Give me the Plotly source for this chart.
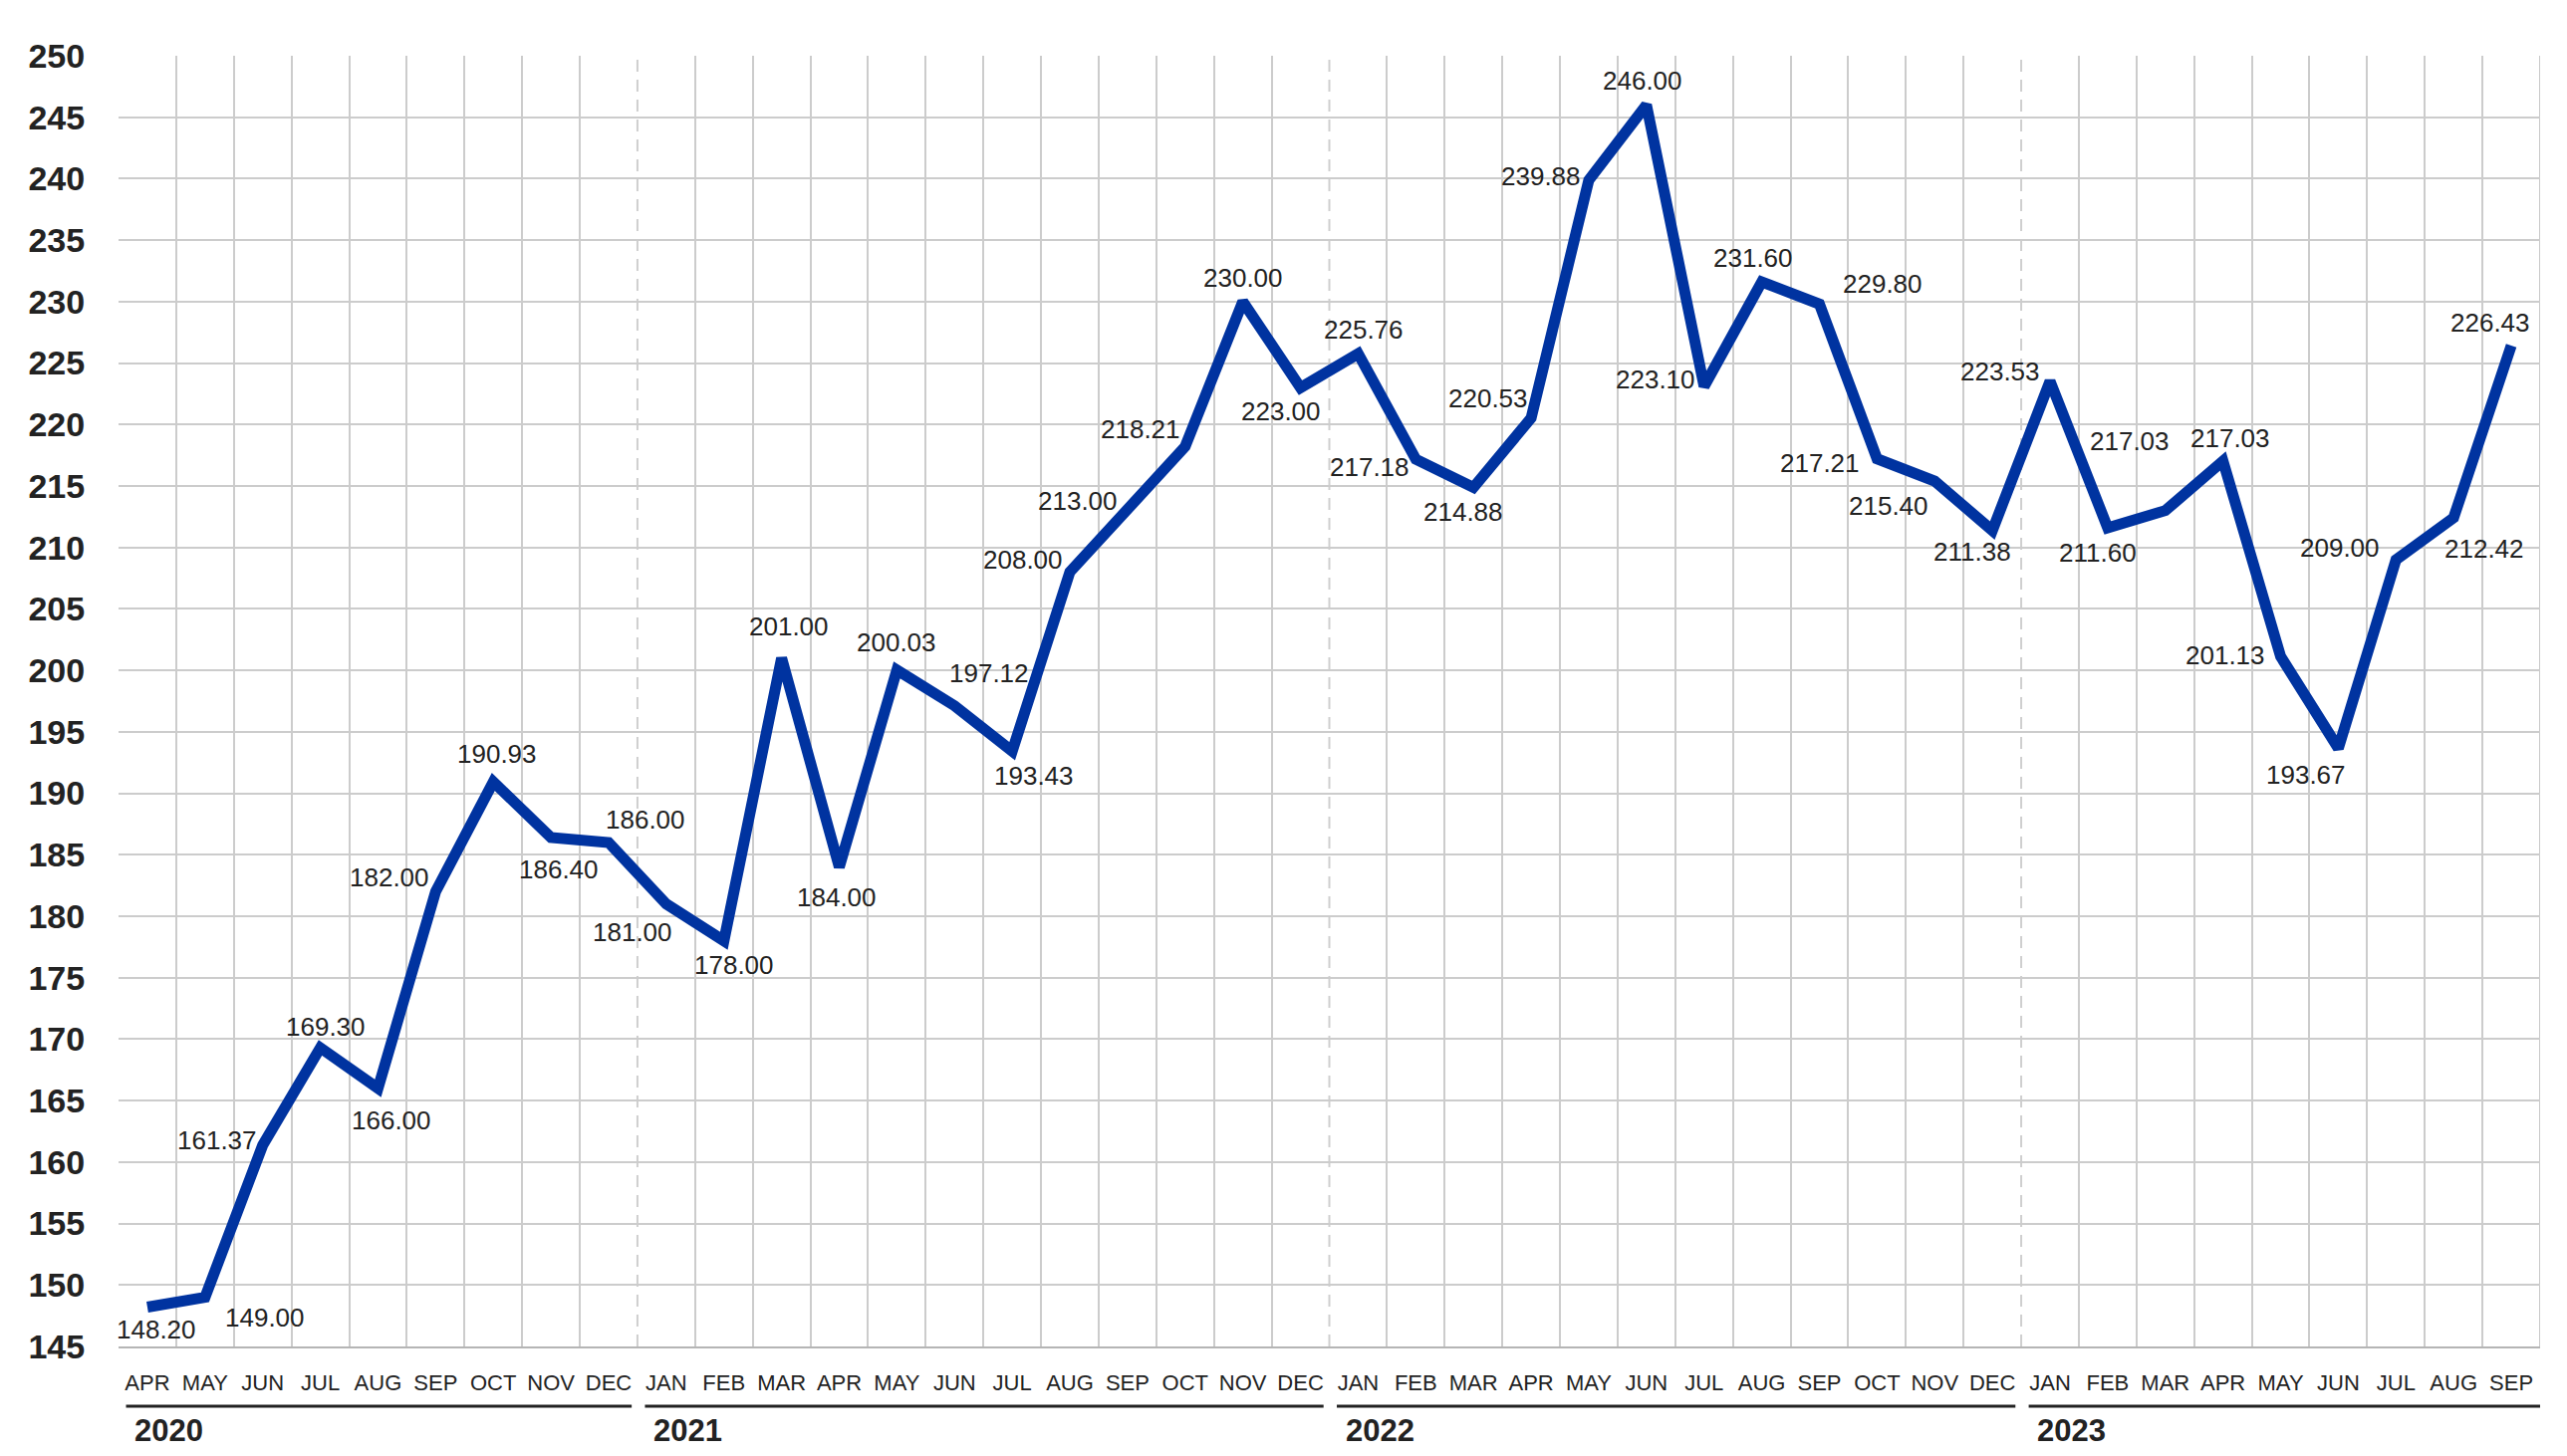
import plotly.graph_objects as go

# data
years = ["2020", "2021", "2022", "2023"]
months_per_year = [9, 12, 12, 9]
months = ["APR", "MAY", "JUN", "JUL", "AUG", "SEP", "OCT", "NOV", "DEC",
          "JAN", "FEB", "MAR", "APR", "MAY", "JUN", "JUL", "AUG", "SEP", "OCT", "NOV", "DEC",
          "JAN", "FEB", "MAR", "APR", "MAY", "JUN", "JUL", "AUG", "SEP", "OCT", "NOV", "DEC",
          "JAN", "FEB", "MAR", "APR", "MAY", "JUN", "JUL", "AUG", "SEP"]
values = [148.20, 149.00, 161.37, 169.30, 166.00, 182.00, 190.93, 186.40, 186.00,
          181.00, 178.00, 201.00, 184.00, 200.03, 197.12, 193.43, 208.00, 213.00, 218.21, 230.00, 223.00,
          225.76, 217.18, 214.88, 220.53, 239.88, 246.00, 223.10, 231.60, 229.80, 217.21, 215.40, 211.38,
          223.53, 211.60, 213.00, 217.03, 201.13, 193.67, 209.00, 212.42, 226.43]
# text printed next to each point (MAR 2023 carries the label shown in the source)
point_labels = ["%.2f" % v for v in values]
point_labels[35] = "217.03"
y_ticks = list(range(145, 251, 5))

# label placement (pixel offsets from the point)
label_offsets = [(9, -22), (60, -20), (-46, 5), (5, 21), (14, -32), (-46, 14), (4, 28), (8, -32), (37, 23),
                 (-34, -28), (10, -24), (7, 32), (-3, -30), (0, 28), (35, 33), (22, -25), (-47, 12),
                 (-50, 10), (-45, 17), (0, 24), (-20, -24),
                 (6, 24), (-46, -8), (-10, -25), (-43, 20), (-48, 4), (-4, 24), (-49, 7), (-9, 24),
                 (64, 20), (-57, -4), (-46, -25), (-20, -21),
                 (-50, 10), (-10, -25), (-36, 70), (7, 23), (-56, 1), (-32, -27), (-56, 12), (31, -31),
                 (-21, 23)]

FONT = "Liberation Sans, Arial, sans-serif"
TXT = "#222222"
x = list(range(len(values)))

fig = go.Figure(go.Scatter(x=x, y=values, mode="lines",
                           line=dict(color="#0033A0", width=11),
                           hoverinfo="skip"))

for i, (v, t, (dx, dy)) in enumerate(zip(values, point_labels, label_offsets)):
    fig.add_annotation(x=i, y=v, text=t, showarrow=False, xshift=dx, yshift=dy,
                       font=dict(family=FONT, size=26, color=TXT))

# year boundaries, year rules and year labels
starts = []
s = 0
for n in months_per_year:
    starts.append(s)
    s += n
boundaries = [st - 0.5 for st in starts[1:]]
for b in boundaries:
    fig.add_shape(type="line", xref="x", yref="y", x0=b, x1=b, y0=145, y1=250,
                  line=dict(color="#cfcfcf", width=2, dash="12px,8px"), layer="below")
fig.add_shape(type="line", xref="x", yref="y", x0=len(values) - 0.5, x1=len(values) - 0.5,
              y0=145, y1=250, line=dict(color="#c8c8c8", width=2), layer="below")
for yr, st, n in zip(years, starts, months_per_year):
    last = st + n >= len(values)
    x_end = len(values) - 0.5 if last else st + n - 0.5 - 0.1
    fig.add_shape(type="line", xref="x", yref="paper", x0=st - 0.5 + 0.13, x1=x_end,
                  y0=-0.0463, y1=-0.0463, line=dict(color=TXT, width=3))
    fig.add_annotation(x=st - 0.5, y=0, xref="x", yref="paper", text="<b>%s</b>" % yr,
                       showarrow=False, xanchor="left", yanchor="bottom", xshift=14, yshift=-104,
                       font=dict(family=FONT, size=31, color=TXT))

minor_grid = [i + 0.5 for i in range(len(values) - 1) if (i + 0.5) not in boundaries]

fig.update_xaxes(range=[-0.5, len(values) - 0.5], tickmode="array", tickvals=x, ticktext=months,
                 showgrid=False, zeroline=False, showline=True, linecolor="#b5b5b5", linewidth=2,
                 ticks="outside", ticklen=16, tickcolor="rgba(0,0,0,0)",
                 tickfont=dict(family=FONT, size=22, color=TXT),
                 minor=dict(tickvals=minor_grid, showgrid=True, gridcolor="#cccccc", gridwidth=2,
                            ticks=""))
fig.update_yaxes(range=[145, 250], tickmode="array", tickvals=y_ticks,
                 ticktext=["<b>%d</b>" % t for t in y_ticks],
                 showgrid=True, gridcolor="#cccccc", gridwidth=2, zeroline=False,
                 ticks="outside", ticklen=26, tickcolor="rgba(0,0,0,0)",
                 tickfont=dict(family=FONT, size=34, color=TXT))
# page body has an 8px margin, so the figure is 16px smaller than the window
fig.update_layout(width=2561, height=1446, showlegend=False,
                  paper_bgcolor="white", plot_bgcolor="white",
                  margin=dict(l=111, r=19, t=48, b=102))

fig.write_html("out.html")
